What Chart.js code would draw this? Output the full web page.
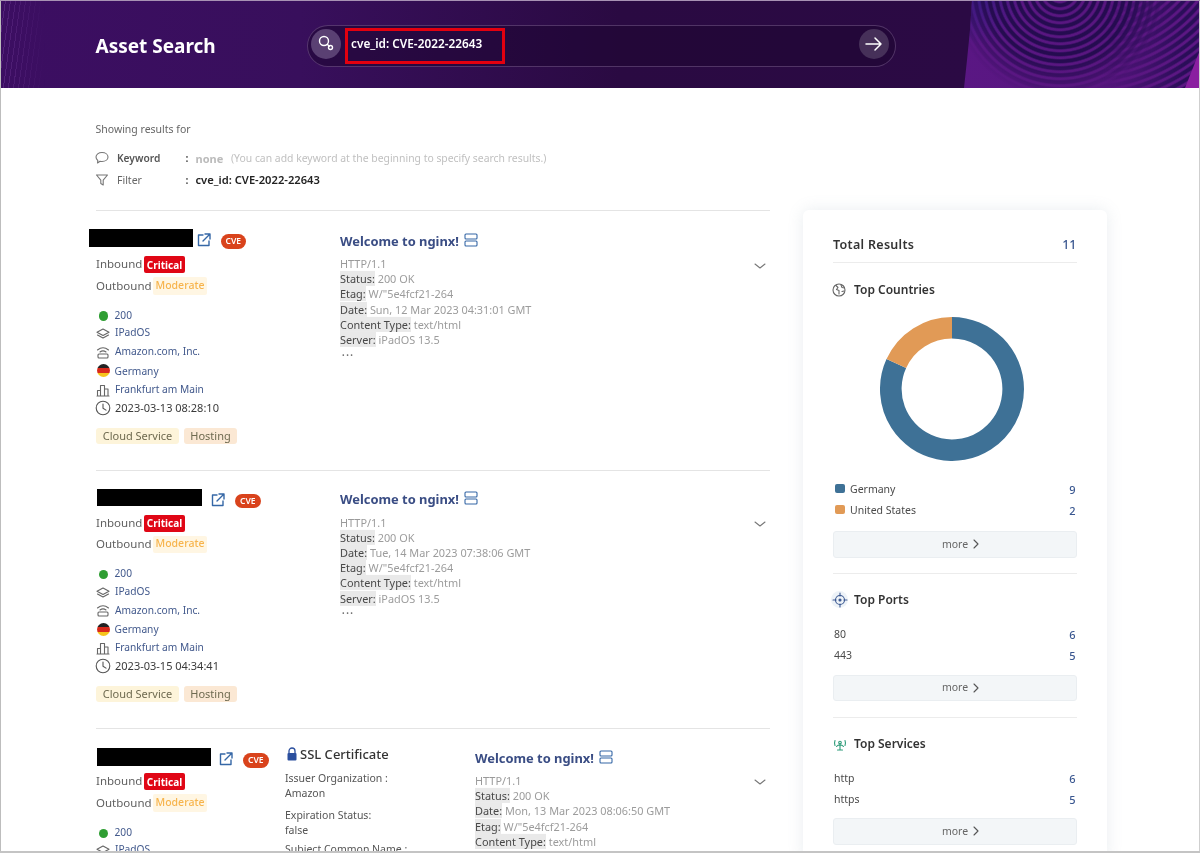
<!DOCTYPE html>
<html>
<head>
<meta charset="utf-8">
<title>Asset Search</title>
<script src="https://cdn.jsdelivr.net/npm/chart.js@4"></script>
<style>
html, body { margin: 0; padding: 0; background: #fff; }
body { width: 1200px; height: 853px; overflow: hidden; position: relative; font-family: "Noto Sans", sans-serif; }
.t { position: absolute; white-space: nowrap; transform: translateY(-50%); line-height: 1.3; }
.box { position: absolute; box-sizing: border-box; }
.r { transform: translate(-100%, -50%); }
svg { position: absolute; overflow: visible; }
#page { filter: blur(.3px); }
#head { position: absolute; left: 0; top: 0; width: 1200px; height: 88px; overflow: hidden;
  background: linear-gradient(90deg, #3c0e62 0, #380f5c 300px, #2a0a42 620px, #2b0a44 970px); }
#stripes { position: absolute; left: 0; top: 0; width: 45px; height: 88px;
  background: repeating-linear-gradient(98deg, rgba(150,90,190,.28) 0 1px, transparent 1px 5px);
  -webkit-mask-image: linear-gradient(90deg, #000, transparent); }
#waveBase { position: absolute; left: 950px; top: 0; width: 250px; height: 88px;
  background: radial-gradient(circle at 30px 0, #3a1a80 0, rgba(58,26,128,0) 45px), linear-gradient(90deg, #5a1784, #58167f 60%, #5c1784);
  clip-path: polygon(22px 0, 100% 0, 100% 100%, 14px 100%, 17px 60px, 20px 30px); }
#waveA { position: absolute; left: 950px; top: 0; width: 250px; height: 88px;
  background: repeating-radial-gradient(circle at 110px -10px, #250c50 0 2.5px, rgba(37,12,80,0) 4px 5.5px, #250c50 7px);
  -webkit-mask-image: radial-gradient(circle at 110px -10px, #000 0 72px, transparent 108px);
  clip-path: polygon(22px 0, 100% 0, 100% 100%, 14px 100%, 17px 60px, 20px 30px); }
#waveB { position: absolute; left: 950px; top: 0; width: 250px; height: 88px;
  background: repeating-radial-gradient(circle at 130px -95px, #2a0e58 0 2.5px, rgba(42,14,88,0) 4px 5.5px, #2a0e58 7px);
  -webkit-mask-image: linear-gradient(90deg, transparent 150px, #000 235px); }
#corner { position: absolute; left: 1185px; top: 50px; width: 15px; height: 38px; background: #8a1fa0;
  clip-path: polygon(100% 0, 100% 100%, 0 100%); }
#panel { position: absolute; left: 803px; top: 210px; width: 304px; height: 650px; background: #fff; border-radius: 6px;
  box-shadow: 0 0 16px rgba(120,140,160,.16); }
#donut { position: absolute; left: 880.3px; top: 317.3px; }
#frameL { position: absolute; left: 0; top: 0; width: 1px; height: 853px; background: #bdbdbd; }
#frameR { position: absolute; right: 0; top: 0; width: 1px; height: 853px; background: #cfcfcf; }
#frameB { position: absolute; left: 0; top: 851px; width: 1200px; height: 2px; background: #c4c4c4; }
#frameT { position: absolute; left: 0; top: 0; width: 1200px; height: 1px; background: #a892b4; }
</style>
</head>
<body>
<div id="head"><div id="stripes"></div><div id="waveBase"></div><div id="waveA"></div><div id="waveB"></div><div id="corner"></div></div>
<div id="panel"></div>
<canvas id="donut" width="144" height="144" style="width:144px;height:144px"></canvas>
<div id="page"></div>
<div id="frameL"></div><div id="frameR"></div><div id="frameB"></div><div id="frameT"></div>

<script>
const query = "cve_id: CVE-2022-22643";

const countries = ["Germany", "United States"];
const countryCounts = [9, 2];
const ports = ["80", "443"];
const portCounts = [6, 5];
const services = ["http", "https"];
const serviceCounts = [6, 5];

const card1Banner = ["Status: 200 OK", 'Etag: W/"5e4fcf21-264', "Date: Sun, 12 Mar 2023 04:31:01 GMT", "Content Type: text/html", "Server: iPadOS 13.5"];
const card2Banner = ["Status: 200 OK", "Date: Tue, 14 Mar 2023 07:38:06 GMT", 'Etag: W/"5e4fcf21-264', "Content Type: text/html", "Server: iPadOS 13.5"];
const card3Banner = ["Status: 200 OK", "Date: Mon, 13 Mar 2023 08:06:50 GMT", 'Etag: W/"5e4fcf21-264', "Content Type: text/html"];

const page = document.getElementById("page");

function text(x, y, str, size, color, weight, extra) {
    const d = document.createElement("div");
    d.className = "t";
    d.textContent = str;
    d.style.cssText = `left:${x}px;top:${y}px;font-size:${size}px;color:${color};font-weight:${weight || 400};${extra || ""}`;
    page.appendChild(d);
    return d;
}
function box(x, y, w, h, bg, extra) {
    const d = document.createElement("div");
    d.className = "box";
    d.style.cssText = `left:${x}px;top:${y}px;width:${w}px;height:${h}px;background:${bg};${extra || ""}`;
    page.appendChild(d);
    return d;
}
function icon(x, y, inner, color, sw) {
    const wrap = document.createElement("div");
    wrap.innerHTML = `<svg style="left:${x - 8}px;top:${y - 8}px" width="16" height="16" viewBox="0 0 16 16" fill="none" stroke="${color}" stroke-width="${sw || 1.1}" stroke-linecap="round" stroke-linejoin="round">${inner}</svg>`;
    page.appendChild(wrap);
}
function badge(x, y, w, h, bg, str, color, size, weight, radius) {
    box(x, y, w, h, bg, `border-radius:${radius}px`);
    const d = text(x + w / 2, y + h / 2, str, size, color, weight);
    d.style.transform = "translate(-50%,-50%)";
}

const extIcon = '<path d="M7 3H2.500v10.500H13V9M9 2h5v5M14 2L7 9"/>';
const serverIcon = '<rect x="2" y="2" width="12" height="5" rx="1"/><rect x="2" y="9" width="12" height="5" rx="1"/>';
const layersIcon = '<path d="M8 4l6 3.200-6 3.200-6-3.200zM2.500 10L8 13l5.500-3"/>';
const wifiIcon = '<path d="M2.500 6Q8 1.500 13.500 6M5 8q3-2.300 6 0"/><rect x="3" y="10" width="10" height="4" rx="1"/>';
const cityIcon = '<path d="M2.500 14V8.500h3V14M5.500 14V3.500h4V14M9.500 14V7h3.500v7M2 14h12"/>';
const clockIcon = '<circle cx="8" cy="8" r="6.800"/><path d="M8 4v4.300l3 1.800"/>';
const chevronIcon = '<path d="M3 6l5 4 5-4"/>';

function hostRow(y, redactW, redactX, extX, cveX) {
    box(redactX, y, redactW, 17.500, "#000");
    icon(extX, y + 11, extIcon, "#3567a6", 1.4);
    badge(cveX, y + 5, 25.500, 14.500, "#d9431c", "CVE", "#fff", 8.500, 600, 8);
}
function severity(dy) {
    text(96, 264 + dy, "Inbound", 11.500, "#5f5f5f");
    badge(144, 256 + dy, 41, 17, "#e00615", "Critical", "#fff", 10, 700, 2);
    text(96, 285.500 + dy, "Outbound", 11.500, "#5f5f5f");
    badge(153, 277 + dy, 54, 17.500, "#fff6e3", "Moderate", "#f7b44c", 10.500, 500, 2);
}
function assetMeta(dy, when) {
    const link = "#42598c";
    box(98.500, 311 + dy, 9.500, 9.500, "#2f9e33", "border-radius:50%");
    text(114.500, 315.800 + dy, "200", 10.200, link);
    icon(103, 333 + dy, layersIcon, "#666");
    text(115, 333 + dy, "IPadOS", 10.200, link);
    icon(103, 351.500 + dy, wifiIcon, "#666");
    text(115, 352 + dy, "Amazon.com, Inc.", 10.200, link);
    box(96.500, 364 + dy, 13, 13, "linear-gradient(#222 0 33%, #d92a1c 33% 66%, #f6c51c 66%)", "border-radius:50%");
    text(114.500, 371.500 + dy, "Germany", 10.200, link);
    icon(103, 389.500 + dy, cityIcon, "#666");
    text(115, 389.500 + dy, "Frankfurt am Main", 10.200, link);
    icon(103, 407.500 + dy, clockIcon, "#555");
    text(115, 407.500 + dy, when, 11, "#3a3a3a");
    badge(96, 427.500 + dy, 83, 16, "#fdf4da", "Cloud Service", "#6e6a50", 11, 400, 3);
    badge(184, 427.500 + dy, 53, 16, "#fbe8d4", "Hosting", "#6e6a50", 11, 400, 3);
}
function banner(x, titleY, lineY, lines, clipBottom) {
    text(x, titleY + 0.5, "Welcome to nginx!", 12.900, "#3a4d84", 700);
    icon(x + 131, titleY, serverIcon, "#3567a6");
    text(x, lineY, "HTTP/1.1", 10.900, "#9a9a9a");
    lines.forEach((line, i) => {
        const at = line.indexOf(":") + 1;
        const y = lineY + 15.200 * (i + 1);
        const row = text(x, y, "", 10.900, "#9c9c9c");
        const key = document.createElement("span");
        key.textContent = line.slice(0, at);
        key.style.cssText = "background:#e9e9e9;color:#484848";
        row.appendChild(key);
        row.appendChild(document.createTextNode(line.slice(at)));
    });
    if (!clipBottom) text(x + 2, lineY + 15.200 * (lines.length + 1) + 0.5, "•••", 7, "#777", 400, "letter-spacing:1.500px");
}

// search header
text(95.500, 46, "Asset Search", 19, "#fff", 700);
box(306.500, 25, 589.500, 42, "rgba(30,6,50,.55)", "border:1px solid rgba(200,170,220,.28);border-radius:21px");
box(311, 28.500, 30, 30, "#5a4073", "border-radius:50%");
box(859, 29, 30, 30, "#463059", "border-radius:50%");
page.insertAdjacentHTML("beforeend", '<svg style="left:316px;top:33px" width="20" height="20" viewBox="0 0 20 20" fill="none" stroke="#fff" stroke-width="1.400" stroke-linecap="round"><circle cx="8" cy="8" r="4.500"/><path d="M11.500 11.500l1.800 1.800"/><circle cx="14.500" cy="14.500" r="2"/></svg>');
page.insertAdjacentHTML("beforeend", '<svg style="left:864px;top:34px" width="20" height="20" viewBox="0 0 20 20" fill="none" stroke="#fff" stroke-width="1.500" stroke-linecap="round" stroke-linejoin="round"><path d="M2 10h15M11 4l6 6-6 6"/></svg>');
box(344.500, 27.500, 160, 36.500, "transparent", "border:3px solid #e3000f");
text(351, 44, query, 11.800, "#fff", 600);

// showing results for
text(95.500, 129.500, "Showing results for", 10.500, "#666");
icon(102, 157.500, '<path d="M8 2.500c3.500 0 6 2 6 4.500s-2.500 4.500-6 4.500c-.7 0-1.400-.1-2-.2L3.500 13l.3-2.500C2.700 9.500 2 8.300 2 7c0-2.500 2.500-4.500 6-4.500z"/>', "#777");
text(117, 158.500, "Keyword", 10.200, "#555", 600);
text(185.500, 158.500, ":", 10.500, "#555", 700);
text(195.500, 158.500, "none", 11, "#bbb", 700);
text(231, 158.500, "(You can add keyword at the beginning to specify search results.)", 10.400, "#c0c0c0");
icon(102, 179.500, '<path d="M2.500 3h11l-4.300 5.200V13L6.800 11.500V8.200z"/>', "#777");
text(117, 180.500, "Filter", 10.500, "#666", 400);
text(185.500, 180.500, ":", 10.500, "#555", 700);
text(195.500, 180, query, 11.200, "#222", 600);

// result list
[210, 469.500, 728].forEach((y) => box(96, y, 674, 1, "#e4e4e4"));

hostRow(229, 104, 89, 204, 220.500);
severity(0);
assetMeta(0, "2023-03-13 08:28:10");
banner(340, 240, 264, card1Banner);
icon(760, 266, chevronIcon, "#777");

hostRow(488.500, 105, 97, 218, 235);
severity(258.500);
assetMeta(258.500, "2023-03-15 04:34:41");
banner(340, 498, 522.500, card2Banner);
icon(760, 524, chevronIcon, "#777");

hostRow(748, 114, 97, 226, 243);
severity(517);
box(98.500, 828.500, 9.500, 9.500, "#2f9e33", "border-radius:50%");
text(114.500, 833, "200", 10.200, "#42598c");
icon(103, 850, layersIcon, "#666");
text(115, 850, "IPadOS", 10.200, "#42598c");

page.insertAdjacentHTML("beforeend", '<svg style="left:286px;top:747px" width="12" height="14" viewBox="0 0 12 14"><path d="M3 6V4a3 3 0 0 1 6 0v2" fill="none" stroke="#2b4f9e" stroke-width="1.300"/><rect x="1.500" y="6" width="9" height="7.500" rx="1" fill="#2b4f9e"/></svg>');
text(300, 754, "SSL Certificate", 13, "#333", 500);
text(285, 778.500, "Issuer Organization :", 10.500, "#555");
text(285, 793.500, "Amazon", 10.500, "#555");
text(285, 815.500, "Expiration Status:", 10.500, "#555");
text(285, 830.500, "false", 10.500, "#555");
text(285, 849.500, "Subject Common Name :", 10.500, "#555");
banner(475, 757, 781, card3Banner, true);
icon(760, 782, chevronIcon, "#777");

// side panel
function sideList(names, counts, firstY, gap, x) {
    names.forEach((name, i) => {
        const y = firstY + gap * i;
        text(x, y, name, 10.500, "#4a4a4a");
        text(1075.500, y, String(counts[i]), 11, "#3a5790", 500).classList.add("r");
    });
}
function moreButton(y) {
    box(833, y, 244, 26.500, "#f3f6f8", "border:1px solid #eaeef1;border-radius:3px");
    const d = text(955, y + 13.500, "more", 10.500, "#666");
    d.style.transform = "translate(-50%,-50%)";
    icon(976, y + 13, '<path d="M6 4l4 4-4 4"/>', "#555");
}

text(833, 244.500, "Total Results", 12.500, "#333", 600, "letter-spacing:.3px");
text(1076.500, 244.500, "11", 12.500, "#3a5790", 500).classList.add("r");
box(833, 261.500, 244, 1, "#ececec");

icon(839, 290, '<circle cx="8" cy="8" r="6"/><path d="M5 3.500l2 2-1.500 2 2.500 1v3.500M10 3l1 2.500 2.500.5M11 9.500l2-.5"/>', "#666");
text(854, 290, "Top Countries", 12, "#333", 600);
const donutColors = ["#3e7196", "#e19a56"];
countries.forEach((c, i) => box(835, 483.500 + 21.300 * i, 9.500, 9.500, donutColors[i], "border-radius:2px"));
sideList(countries, countryCounts, 489.500, 21.300, 850);
moreButton(531);
box(833, 573, 244, 1, "#ececec");

box(831, 591, 17, 17, "#eef3f8", "border-radius:50%");
icon(839.500, 599.500, '<circle cx="8" cy="8" r="4.500"/><circle cx="8" cy="8" r="1" fill="#3a5790"/><path d="M8 1v3M8 12v3M1 8h3M12 8h3"/>', "#3a5790");
text(854, 599.500, "Top Ports", 12, "#333", 600);
sideList(ports, portCounts, 635, 20.700, 834);
moreButton(674.500);
box(833, 717, 244, 1, "#ececec");

icon(839.500, 744, '<path d="M8 8v6M5.500 14h5M4.500 10.500a4.500 4.500 0 0 1 7 0M3 4.500a7 7 0 0 0 0 5M13 4.500a7 7 0 0 1 0 5"/><circle cx="8" cy="6.500" r="1.300"/>', "#2e9c7a");
text(854, 743.500, "Top Services", 12, "#333", 600);
sideList(services, serviceCounts, 779, 20.500, 834);
moreButton(818);

new Chart(document.getElementById("donut"), {
    type: "doughnut",
    data: {
        labels: countries,
        datasets: [{
            data: countryCounts,
            backgroundColor: donutColors,
            borderWidth: 0
        }]
    },
    options: {
        responsive: false,
        animation: false,
        cutout: "70%",
        plugins: { legend: { display: false }, tooltip: { enabled: false } }
    }
});
</script>
</body>
</html>
